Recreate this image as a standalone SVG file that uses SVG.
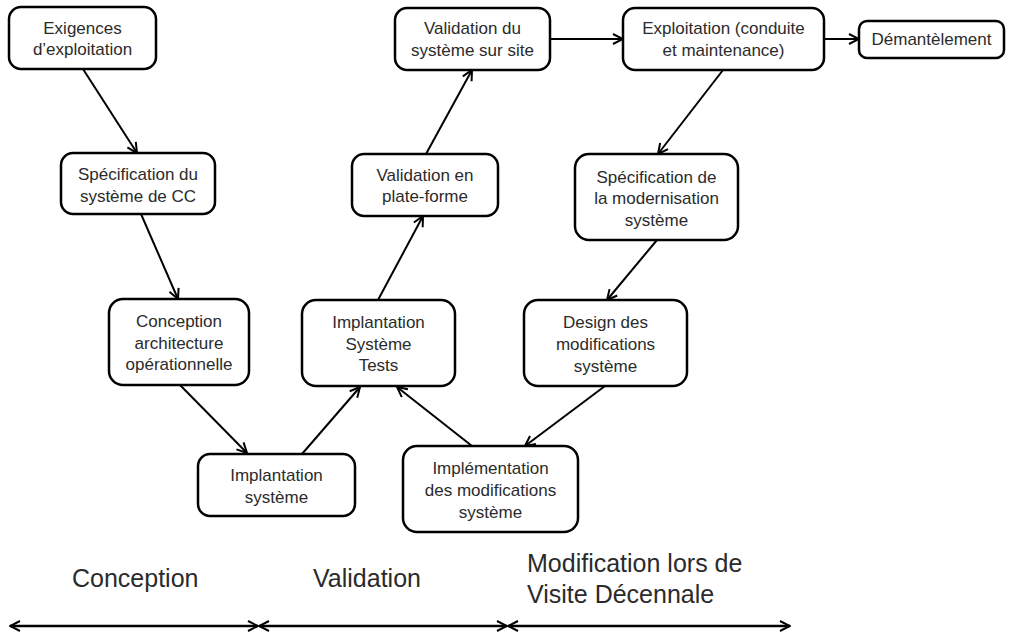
<svg xmlns="http://www.w3.org/2000/svg" width="1009" height="634" viewBox="0 0 1009 634">
  <style>
    .box { fill: #ffffff; stroke: #000000; stroke-width: 2.5; }
    .lbl { font-family: "Liberation Sans", Arial, sans-serif; font-size: 17px; fill: #2b2b2b; text-anchor: middle; }
    .phase { font-family: "Liberation Sans", Arial, sans-serif; font-size: 25px; fill: #2b2b2b; }
    .link { stroke: #000000; stroke-width: 2; fill: none; marker-end: url(#head); }
    .span { stroke: #000000; stroke-width: 2.5; fill: none; marker-start: url(#head); marker-end: url(#head); }
  </style>
  <defs>
    <marker id="head" viewBox="0 0 12 12" refX="11" refY="6" markerWidth="12" markerHeight="12" markerUnits="userSpaceOnUse" orient="auto-start-reverse">
      <path d="M1,1 L11,6 L1,11" fill="none" stroke="#000000" stroke-width="2"/>
    </marker>
  </defs>
  <rect width="1009" height="634" fill="#ffffff"/>

  <!-- connectors -->
  <g id="connectors">
    <line class="link" x1="83" y1="69" x2="137" y2="153"/>
    <line class="link" x1="141" y1="214" x2="178" y2="299"/>
    <line class="link" x1="180" y1="385" x2="247" y2="453"/>
    <line class="link" x1="302" y1="454" x2="360" y2="387"/>
    <line class="link" x1="378" y1="300" x2="423" y2="216"/>
    <line class="link" x1="426" y1="154" x2="472" y2="70"/>
    <line class="link" x1="550" y1="39" x2="623" y2="39"/>
    <line class="link" x1="824" y1="39" x2="859" y2="39"/>
    <line class="link" x1="723" y1="70" x2="658" y2="154"/>
    <line class="link" x1="657" y1="240" x2="607" y2="300"/>
    <line class="link" x1="605" y1="386" x2="525" y2="446"/>
    <line class="link" x1="472" y1="446" x2="397" y2="387"/>
  </g>

  <g id="n-exigences">
    <rect class="box" x="9" y="7" width="147" height="62" rx="12"/>
    <text class="lbl" x="82.5" y="34">Exigences</text>
    <text class="lbl" x="82.5" y="55">d’exploitation</text>
  </g>
  <g id="n-specification">
    <rect class="box" x="61" y="153" width="154" height="61" rx="12"/>
    <text class="lbl" x="138" y="180">Spécification du</text>
    <text class="lbl" x="138" y="202">système de CC</text>
  </g>
  <g id="n-conception">
    <rect class="box" x="109" y="299" width="140" height="86" rx="14"/>
    <text class="lbl" x="179" y="327">Conception</text>
    <text class="lbl" x="179" y="349">architecture</text>
    <text class="lbl" x="179" y="370">opérationnelle</text>
  </g>
  <g id="n-implantation">
    <rect class="box" x="198" y="454" width="157" height="62" rx="12"/>
    <text class="lbl" x="276.5" y="481">Implantation</text>
    <text class="lbl" x="276.5" y="503">système</text>
  </g>
  <g id="n-tests">
    <rect class="box" x="302" y="300" width="153" height="86" rx="14"/>
    <text class="lbl" x="378.5" y="328">Implantation</text>
    <text class="lbl" x="378.5" y="350">Système</text>
    <text class="lbl" x="378.5" y="371">Tests</text>
  </g>
  <g id="n-implementation">
    <rect class="box" x="403" y="446" width="175" height="86" rx="14"/>
    <text class="lbl" x="490.5" y="474">Implémentation</text>
    <text class="lbl" x="490.5" y="496">des modifications</text>
    <text class="lbl" x="490.5" y="518">système</text>
  </g>
  <g id="n-design">
    <rect class="box" x="524" y="300" width="163" height="86" rx="14"/>
    <text class="lbl" x="605.5" y="328">Design des</text>
    <text class="lbl" x="605.5" y="350">modifications</text>
    <text class="lbl" x="605.5" y="372">système</text>
  </g>
  <g id="n-modernisation">
    <rect class="box" x="575" y="154" width="163" height="86" rx="14"/>
    <text class="lbl" x="656.5" y="183">Spécification de</text>
    <text class="lbl" x="656.5" y="204">la modernisation</text>
    <text class="lbl" x="656.5" y="226">système</text>
  </g>
  <g id="n-exploitation">
    <rect class="box" x="623" y="8" width="201" height="62" rx="12"/>
    <text class="lbl" x="723.5" y="34">Exploitation (conduite</text>
    <text class="lbl" x="723.5" y="56">et maintenance)</text>
  </g>
  <g id="n-demantelement">
    <rect class="box" x="859" y="21" width="145" height="37" rx="8"/>
    <text class="lbl" x="931.5" y="45">Démantèlement</text>
  </g>
  <g id="n-site">
    <rect class="box" x="395" y="8" width="155" height="62" rx="12"/>
    <text class="lbl" x="472.5" y="34">Validation du</text>
    <text class="lbl" x="472.5" y="56">système sur site</text>
  </g>
  <g id="n-plateforme">
    <rect class="box" x="352" y="154" width="146" height="62" rx="12"/>
    <text class="lbl" x="425" y="181">Validation en</text>
    <text class="lbl" x="425" y="202">plate-forme</text>
  </g>

  <!-- phase bands along the bottom -->
  <g id="phases">
    <text class="phase" x="72" y="587">Conception</text>
    <text class="phase" x="313" y="587">Validation</text>
    <text class="phase" x="527" y="572">Modification lors de</text>
    <text class="phase" x="527" y="603">Visite Décennale</text>
    <line class="span" x1="10" y1="626" x2="258" y2="626"/>
    <line class="span" x1="259" y1="626" x2="507" y2="626"/>
    <line class="span" x1="508" y1="626" x2="790" y2="626"/>
  </g>
</svg>
